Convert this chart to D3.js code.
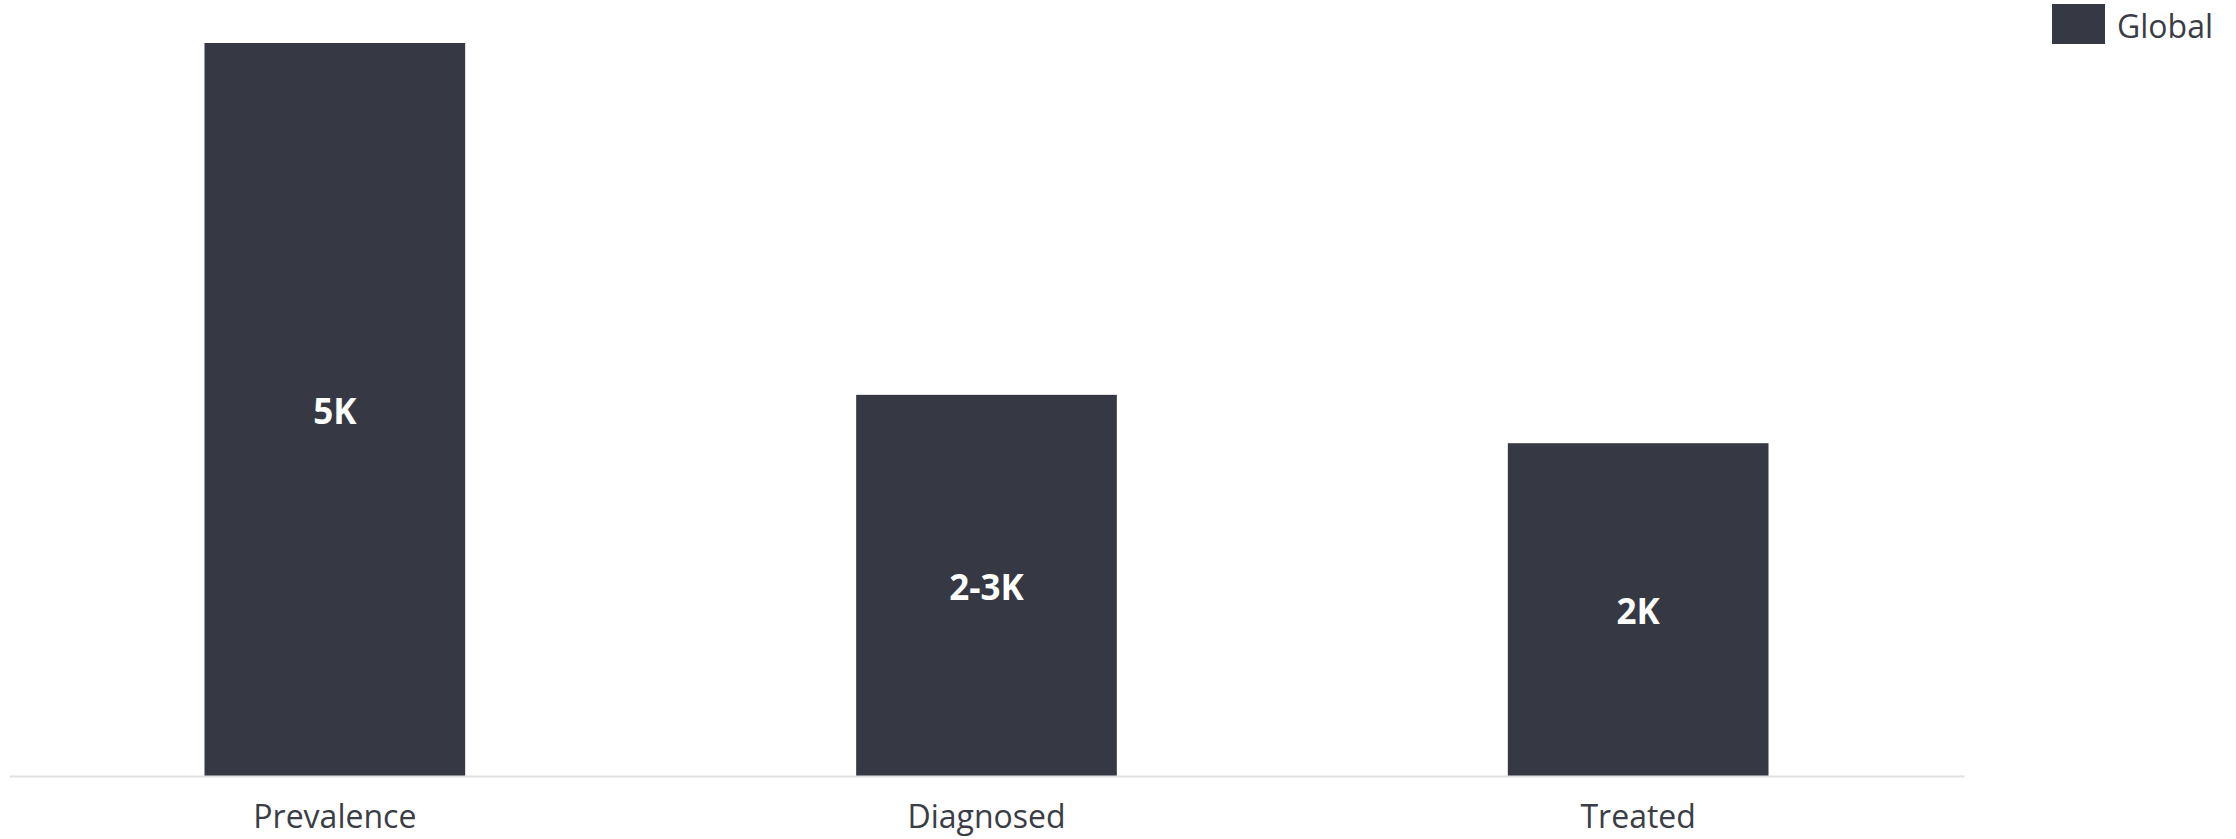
<!DOCTYPE html>
<html>
<head>
<meta charset="utf-8">
<script src="https://cdn.jsdelivr.net/npm/d3@7/dist/d3.min.js"></script>
<style>
  html, body { margin: 0; padding: 0; background: #ffffff; }
  svg { display: block; }
</style>
</head>
<body>
<svg id="chart" width="2236" height="839"></svg>
<script>
// ---- Data ----
const categories = ["Prevalence", "Diagnosed", "Treated"];
const values = [5000, 2600, 2270];
const valueLabels = ["5K", "2-3K", "2K"];
const seriesName = "Global";

// ---- Layout ----
const barColor = "#363943";
const textColor = "#3a3d45";
const fontFamily = "'Open Sans', 'Noto Sans', sans-serif";

const svg = d3.select("#chart");

const x = d3.scaleBand()
  .domain(categories)
  .range([9, 1964])
  .paddingInner(0.6)
  .paddingOuter(0.3);

const y = d3.scaleLinear()
  .domain([0, 5000])
  .range([776, 43]);

// bars
svg.append("g").selectAll("rect")
  .data(categories)
  .join("rect")
  .attr("x", d => x(d))
  .attr("y", (d, i) => y(values[i]))
  .attr("width", x.bandwidth())
  .attr("height", (d, i) => y(0) - y(values[i]))
  .attr("fill", barColor);

// axis baseline
const xAxis = d3.axisBottom(x).tickSize(0).tickPadding(29);
const gx = svg.append("g")
  .attr("transform", `translate(0,${y(0)})`)
  .call(xAxis);
gx.select(".domain")
  .attr("stroke", "#e1e1e3")
  .attr("stroke-width", 2);
gx.selectAll(".tick text")
  .attr("fill", textColor)
  .style("font-family", fontFamily)
  .style("font-size", "32px");

// data labels
svg.append("g").selectAll("text")
  .data(categories)
  .join("text")
  .attr("x", d => x(d) + x.bandwidth() / 2)
  .attr("y", (d, i) => (y(values[i]) + y(0)) / 2)
  .attr("dy", "0.42em")
  .attr("text-anchor", "middle")
  .attr("fill", "#ffffff")
  .style("font-family", fontFamily)
  .style("font-weight", "700")
  .style("font-size", "35px")
  .text((d, i) => valueLabels[i]);

// legend
const lg = svg.append("g");
lg.append("rect")
  .attr("x", 2052).attr("y", 4)
  .attr("width", 53).attr("height", 40)
  .attr("fill", barColor);
lg.append("text")
  .attr("x", 2117).attr("y", 38)
  .attr("fill", textColor)
  .style("font-family", fontFamily)
  .style("font-size", "32px")
  .text(seriesName);
</script>
</body>
</html>
